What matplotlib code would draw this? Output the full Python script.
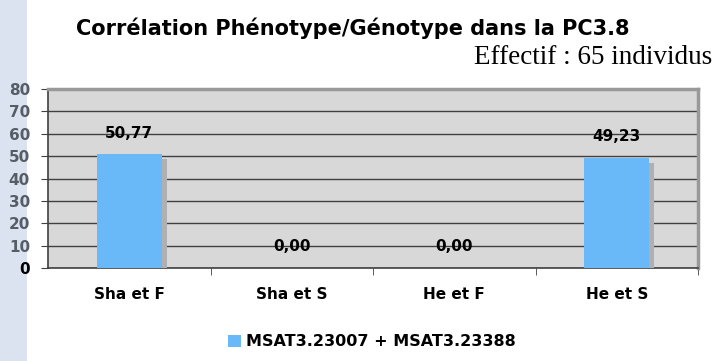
import matplotlib.pyplot as plt
import matplotlib.patheffects as pe
from matplotlib.patches import Rectangle, Patch

# data
categories = ["Sha et F", "Sha et S", "He et F", "He et S"]
values = [50.77, 0.00, 0.00, 49.23]
series_name = "MSAT3.23007 + MSAT3.23388"
yticks = [0, 10, 20, 30, 40, 50, 60, 70, 80]

bar_color = "#69b8f7"

fig = plt.figure(figsize=(7.16, 3.61), dpi=100)
fig.patch.set_facecolor("white")

# pale blue strip on the left edge
fig.add_artist(Rectangle((0, 0), 27 / 716, 1, transform=fig.transFigure,
                         facecolor="#dce3f0", edgecolor="none", zorder=0))

ax = fig.add_axes([48 / 716, 1 - 268 / 361, 650 / 716, 179 / 361])
ax.set_facecolor("#d8d8d8")

x = list(range(len(categories)))
bars = ax.bar(x, values, width=0.4, color=bar_color, zorder=3)
for b in bars:
    b.set_path_effects([pe.SimplePatchShadow(offset=(3.5, -3.5),
                                             shadow_rgbFace="#b0b0b0", alpha=1.0),
                        pe.Normal()])

for xi, v in zip(x, values):
    ax.annotate(f"{v:.2f}".replace(".", ","), (xi, v), xytext=(0, 10),
                textcoords="offset points", ha="center", va="bottom",
                fontsize=11, fontweight="bold", color="black", zorder=5)

ax.set_xlim(-0.5, len(categories) - 0.5)
ax.set_ylim(0, 80)
ax.set_yticks(yticks)
ax.yaxis.grid(True, color="#404040", linewidth=1.0, zorder=1)
ax.set_axisbelow(True)

ax.set_xticks(x)
ax.set_xticklabels(categories, fontsize=11, fontweight="bold")
ax.tick_params(axis="x", length=0, pad=14)
ax.set_xticks([i + 0.5 for i in x], minor=True)
ax.tick_params(axis="x", which="minor", length=5, color="#404040", direction="out")

ax.tick_params(axis="y", length=5, color="#404040", pad=8)
for lbl in ax.get_yticklabels():
    lbl.set_fontweight("bold")
    lbl.set_fontsize(11)
    lbl.set_color("#555d66")
ax.get_yticklabels()[0].set_color("black")

ax.spines["left"].set_color("#404040")
ax.spines["bottom"].set_color("#404040")
ax.spines["left"].set_linewidth(1.2)
ax.spines["bottom"].set_linewidth(1.2)
ax.spines["top"].set_color("#999999")
ax.spines["right"].set_color("#999999")
ax.spines["top"].set_linewidth(2.5)
ax.spines["right"].set_linewidth(2.5)

fig.text(353 / 716, 1 - 28 / 361, "Corrélation Phénotype/Génotype dans la PC3.8",
         ha="center", va="center", fontsize=15, fontweight="bold")
fig.text(712 / 716, 1 - 57 / 361, "Effectif : 65 individus",
         ha="right", va="center", fontsize=19.5, family="Liberation Serif")

handle = Patch(facecolor=bar_color, edgecolor="none")
fig.legend([handle], [series_name], loc="center", bbox_to_anchor=(372 / 716, 1 - 342 / 361),
           frameon=False, handlelength=0.8, handleheight=0.8, handletextpad=0.3,
           prop={"weight": "bold", "size": 11.5})

fig.savefig("out.png", dpi=100)
